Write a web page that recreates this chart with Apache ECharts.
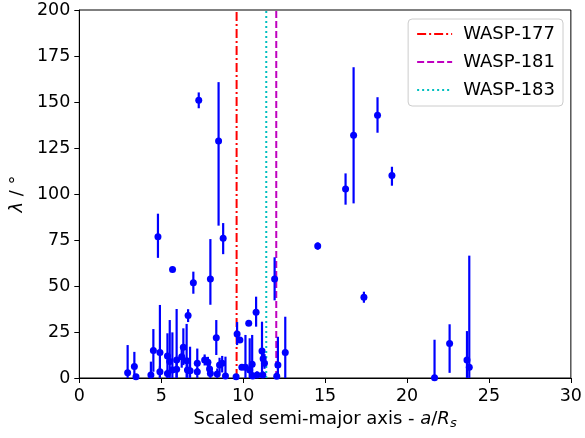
<!DOCTYPE html>
<html>
<head>
<meta charset="utf-8">
<script src="https://cdn.jsdelivr.net/npm/echarts@6/dist/echarts.min.js"></script>
<style>
    html, body { margin: 0; padding: 0; background: #fff; }
    #chart { width: 585px; height: 438px; }
</style>
</head>
<body>
<div id="chart"></div>
<script>
    // measured planets: scaled semi-major axis, projected obliquity and its errors
    const scaledA = [4.8, 5.69, 6.96, 7.29, 8.0, 8.5, 8.78, 11.92, 14.55, 16.25, 16.74, 17.37, 18.2, 19.08,
        21.68, 22.6, 23.66, 23.8,
        2.95, 3.36, 3.46, 4.37, 4.52, 4.92, 4.92, 5.38, 5.38, 5.52, 5.68, 5.94, 5.94, 6.25, 6.35, 6.64,
        6.55, 6.6, 6.76, 7.2, 7.2, 7.65, 7.85, 7.95, 8.0, 8.36, 8.42, 8.56, 8.72, 8.92, 9.57, 9.63, 9.8,
        9.92, 10.14, 10.34, 10.4, 10.55, 10.58, 10.79, 10.85, 11.15, 11.22, 11.3, 11.2, 12.12, 12.05, 12.57]
    const lambdaDeg = [76.8, 58.9, 51.8, 150.9, 53.8, 128.8, 75.9, 53.8, 71.7, 102.7, 131.9, 43.9, 142.8, 110,
        0.2, 18.8, 9.8, 5.8,
        2.9, 6.2, 0.7, 1.6, 14.9, 13.8, 3.4, 12, 2.5, 8.9, 4.3, 9.8, 4.7, 11.6, 16.7, 33.9,
        9.4, 4.3, 4, 8, 3.4, 9.8, 8.5, 4.9, 2.5, 21.9, 2.2, 7, 8, 1.1, 0.7, 23.9, 20.6,
        5.8, 5.8, 29.7, 4.3, 7.5, 1.1, 35.7, 1.6, 14.7, 10.5, 8, 1.6, 7, 1.0, 13.8]
    const errLo = [11.5, 0.8, 6, 4.3, 14, 46, 8.6, 11.6, 2, 8.5, 37, 3, 9.5, 5.5,
        0.2, 16, 9.8, 5.8,
        2.9, 6.2, 0.7, 1.6, 11.5, 13.8, 3.4, 12, 2.5, 8.9, 4.3, 9.8, 4.7, 6, 9.7, 3.5,
        9.4, 4.3, 4, 4.5, 3.4, 3, 3, 3, 2.5, 9.4, 2.2, 4, 5, 1.1, 0.7, 6, 1,
        1, 5.8, 1, 4.3, 7.5, 1.1, 7.8, 1.6, 14.7, 3, 3, 1.6, 7, 1.0, 13.8]
    const errHi = [12.5, 0.8, 6, 4.3, 21.7, 32, 8.3, 11.8, 2, 8.5, 37, 3, 9.8, 4.8,
        20.6, 10.4, 15.7, 60.7,
        15, 8, 1, 7.3, 11.7, 25.9, 3, 12.3, 2, 22.6, 20.5, 27.7, 4, 6, 10.3, 3.5,
        20, 6, 13, 8, 2, 3, 3, 3, 2, 9.6, 3, 4, 4, 10.5, 1, 6.5, 1,
        1, 17.6, 1, 17.3, 15.9, 2, 8.5, 2, 15.9, 3, 5, 2, 15.4, 2, 19.5]

    const waspNames = ['WASP-177', 'WASP-181', 'WASP-183']
    const waspA = [9.6, 12.02, 11.41]
    const waspColors = ['#ff0000', '#bf00bf', '#00bfbf']
    const waspDash = [[9, 3, 2, 3], [7, 3], [2, 3]]

    const xTicks = [0, 5, 10, 15, 20, 25, 30]
    const yTicks = [0, 25, 50, 75, 100, 125, 150, 175, 200]

    const font = 'DejaVu Sans'
    let points = scaledA.map((a, i) => [a, lambdaDeg[i], errLo[i], errHi[i]])

    let waspSeries = waspNames.map((name, i) => ({
        name: name,
        type: 'line',
        symbol: 'none',
        silent: true,
        color: waspColors[i],
        lineStyle: { color: waspColors[i], width: 2, type: waspDash[i] },
        data: [[waspA[i], yTicks[0]], [waspA[i], yTicks[yTicks.length - 1]]],
        z: 3
    }))

    let myChart = echarts.init(document.getElementById('chart'))
    let option = {
        animation: false,
        backgroundColor: '#fff',
        textStyle: { fontFamily: font },
        grid: {
            left: 78, right: 13, top: 10, bottom: 60,
            show: true, borderColor: '#000', borderWidth: 1
        },
        legend: {
            orient: 'vertical',
            right: 22, top: 19,
            padding: [6, 8, 7, 8],
            itemWidth: 35, itemHeight: 17, itemGap: 10,
            borderColor: '#cccccc', borderWidth: 1, borderRadius: 4,
            backgroundColor: 'rgba(255,255,255,0.8)',
            itemStyle: { opacity: 0 },
            textStyle: { fontFamily: font, fontSize: 18, color: '#000', padding: [0, 0, 0, 6] },
            data: waspNames
        },
        xAxis: {
            type: 'value',
            min: xTicks[0], max: xTicks[xTicks.length - 1], interval: 5,
            name: '{n|Scaled semi-major axis - }{i|a}{n|/}{i|R}{s|s}',
            nameLocation: 'middle', nameGap: 30,
            nameTextStyle: {
                rich: {
                    n: { fontFamily: font, fontSize: 18, color: '#000' },
                    i: { fontFamily: font, fontSize: 18, fontStyle: 'italic', color: '#000' },
                    s: { fontFamily: font, fontSize: 13, fontStyle: 'italic', color: '#000', verticalAlign: 'bottom', padding: [9, 0, 0, 0] }
                }
            },
            splitLine: { show: false },
            axisLine: { lineStyle: { color: '#000', width: 1 } },
            axisTick: { length: 5, lineStyle: { color: '#000' } },
            axisLabel: { fontFamily: font, fontSize: 17.5, color: '#000', margin: 9 }
        },
        yAxis: {
            type: 'value',
            min: yTicks[0], max: yTicks[yTicks.length - 1], interval: 25,
            name: '{i|λ}{n| / °}',
            nameLocation: 'middle', nameGap: 44, nameRotate: 90,
            nameTextStyle: {
                rich: {
                    n: { fontFamily: font, fontSize: 18, color: '#000' },
                    i: { fontFamily: font, fontSize: 18, fontStyle: 'italic', color: '#000' }
                }
            },
            splitLine: { show: false },
            axisLine: { show: true, lineStyle: { color: '#000', width: 1 } },
            axisTick: { show: true, length: 5, lineStyle: { color: '#000' } },
            axisLabel: { fontFamily: font, fontSize: 17.5, color: '#000', margin: 9 }
        },
        series: [
            {
                name: 'errors',
                type: 'custom',
                clip: true,
                silent: true,
                data: points,
                renderItem: function (params, api) {
                    let x = api.value(0)
                    let lo = api.coord([x, api.value(1) - api.value(2)])
                    let hi = api.coord([x, api.value(1) + api.value(3)])
                    return {
                        type: 'line',
                        shape: { x1: lo[0], y1: lo[1], x2: hi[0], y2: hi[1] },
                        style: { stroke: '#0000ff', lineWidth: 2.2 }
                    }
                },
                z: 4
            },
            {
                name: 'planets',
                type: 'scatter',
                symbol: 'circle',
                symbolSize: 7,
                itemStyle: { color: '#0000ff', opacity: 1 },
                data: points.map(p => [p[0], p[1]]),
                z: 5
            }
        ].concat(waspSeries)
    }
    myChart.setOption(option)
</script>
</body>
</html>
